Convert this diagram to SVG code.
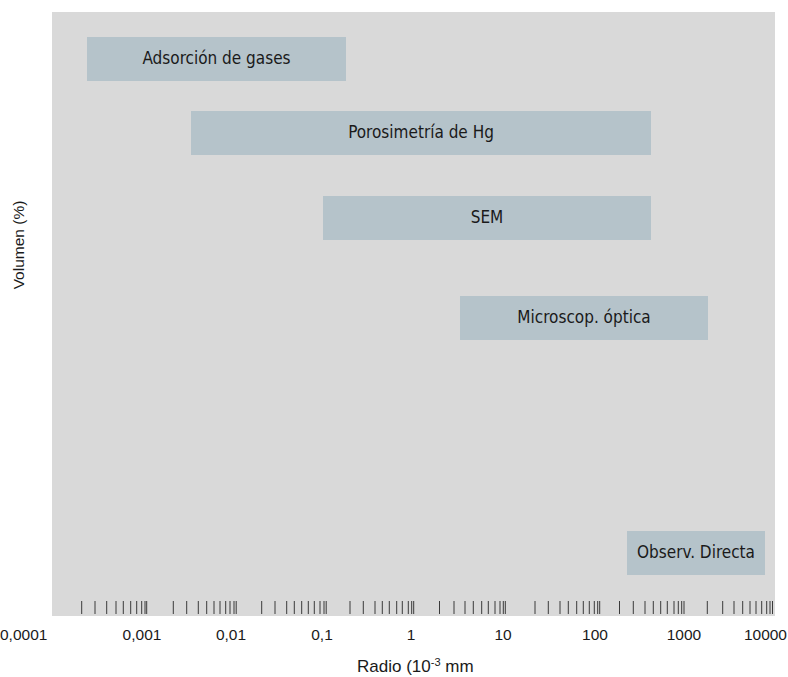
<svg xmlns="http://www.w3.org/2000/svg" width="788" height="677" viewBox="0 0 788 677">
<style>
.panel{fill:#d9d9d9}
.box{fill:#b5c3ca}
.lbl{font-family:"Liberation Sans Narrow","DejaVu Sans Condensed","Liberation Sans",sans-serif;font-size:17px;fill:#1a1a1a;text-anchor:middle}
.ax{font-family:"Liberation Sans",Arial,sans-serif;font-size:15.5px;fill:#1a1a1a}
.tk{stroke:#3a3a3a;stroke-width:1}
</style>
<rect width="788" height="677" fill="#ffffff"/>
<rect class="panel" x="52" y="12" width="723" height="604"/>
<g id="adsorcion"><rect class="box" x="87" y="37" width="259" height="44"/><text class="lbl" x="216.5" y="64">Adsorción de gases</text></g>
<g id="porosimetria"><rect class="box" x="191" y="111" width="460" height="44"/><text class="lbl" x="421" y="138">Porosimetría de Hg</text></g>
<g id="sem"><rect class="box" x="323" y="196" width="328" height="44"/><text class="lbl" x="487" y="223">SEM</text></g>
<g id="microscop"><rect class="box" x="460" y="296" width="248" height="44"/><text class="lbl" x="584" y="323">Microscop. óptica</text></g>
<g id="observ"><rect class="box" x="627" y="531" width="138" height="44"/><text class="lbl" x="696" y="558">Observ. Directa</text></g>
<g id="ticks" class="tk">
<path d="M81.7 601v13M95 601v13M106.7 601v13M116 601v13M123.3 601v13M130.7 601v13M136.7 601v13M141.7 601v13M145 601v13M146.7 601v13"/>
<path d="M173.3 601v13M186.7 601v13M198.3 601v13M206.7 601v13M214 601v13M220 601v13M225.7 601v13M230 601v13M234 601v13M236.2 601v13"/>
<path d="M261.7 601v13M275 601v13M286.7 601v13M294.3 601v13M301.7 601v13M308.3 601v13M314.3 601v13M320 601v13M324 601v13M326.2 601v13"/>
<path d="M350 601v13M363.3 601v13M375 601v13M382.3 601v13M389.3 601v13M396.7 601v13M402.3 601v13M408.3 601v13M411.7 601v13M413.7 601v13"/>
<path d="M439.5 601v13M454 601v13M465 601v13M473.3 601v13M481.7 601v13M488.3 601v13M495 601v13M500 601v13M503.3 601v13M505.3 601v13"/>
<path d="M535 601v13M548.3 601v13M560 601v13M568.3 601v13M576.7 601v13M583.3 601v13M589.3 601v13M594.3 601v13M597.7 601v13M599.7 601v13"/>
<path d="M619.5 601v13M633.3 601v13M645 601v13M653.3 601v13M660.7 601v13M667.3 601v13M674 601v13M678.3 601v13M681.7 601v13M684 601v13"/>
<path d="M707.3 601v13M722.7 601v13M734 601v13M742.7 601v13M750 601v13M756 601v13M761.7 601v13M766.7 601v13M770 601v13M772.5 601v13"/>
</g>
<g id="axis-labels" class="ax">
<text x="0" y="640">0,0001</text>
<text x="142" y="640" text-anchor="middle">0,001</text>
<text x="231" y="640" text-anchor="middle">0,01</text>
<text x="322" y="640" text-anchor="middle">0,1</text>
<text x="411" y="640" text-anchor="middle">1</text>
<text x="503" y="640" text-anchor="middle">10</text>
<text x="595" y="640" text-anchor="middle">100</text>
<text x="684" y="640" text-anchor="middle">1000</text>
<text x="787" y="640" text-anchor="end">10000</text>
<text x="357" y="672" font-size="17">Radio (10<tspan font-size="11" dy="-6">-3</tspan><tspan dy="6"> mm</tspan></text>
<text transform="translate(24,245) rotate(-90)" text-anchor="middle">Volumen (%)</text>
</g>
</svg>
